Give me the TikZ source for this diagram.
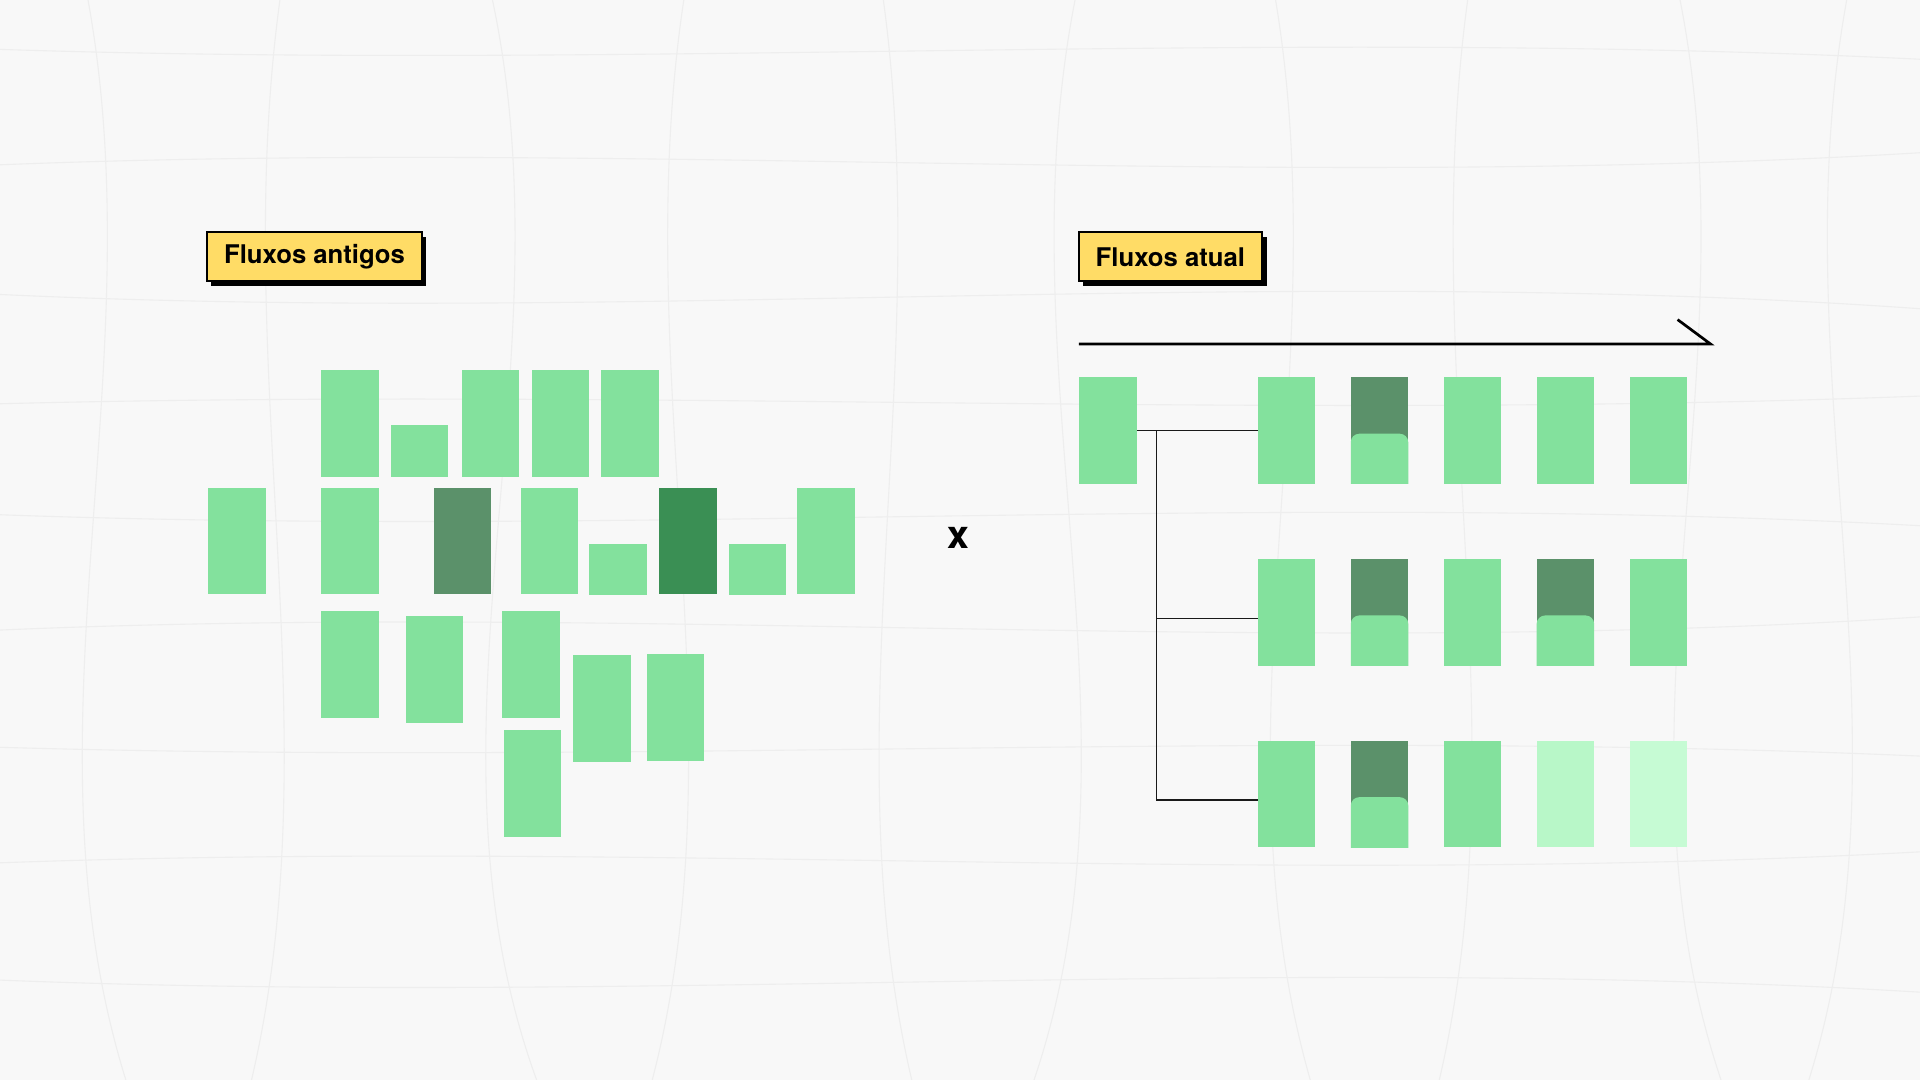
\documentclass[tikz,border=0pt]{standalone}
\usepackage{fontspec}
\setmainfont{TeX Gyre Heros}
\usepackage{tikz}
\usetikzlibrary{positioning,shadows}

\definecolor{bgpaper}{HTML}{F8F8F8}
\definecolor{meshgray}{HTML}{EEEEEE}
\definecolor{boxgreen}{HTML}{83E19D}
\definecolor{boxdark}{HTML}{5B916A}
\definecolor{boxdeep}{HTML}{3A8F54}
\definecolor{boxpale}{HTML}{B8F7C8}
\definecolor{boxpaler}{HTML}{C6FBD4}
\definecolor{tagyellow}{HTML}{FFDC66}

\tikzset{
    block/.style={
           rectangle,
           fill=boxgreen,
           draw=none,
           minimum width=47pt,
           minimum height=87pt,
           inner sep=0pt,
           anchor=north west,
           },
    halfblock/.style={
           block,
           minimum height=42pt,
           },
    darkblock/.style={
           block,
           fill=boxdark,
           },
    deepblock/.style={
           block,
           fill=boxdeep,
           },
    % dark on top, rounded light part below
    splitblock/.style={
           darkblock,
           path picture={
               \fill[boxgreen]
                 ([yshift=-42pt]path picture bounding box.south west)
                 [rounded corners=7pt] |- ([yshift=41pt]path picture bounding box.south)
                 -| ([yshift=-42pt]path picture bounding box.south east)
                 [sharp corners] -- cycle;
               },
           },
    tag/.style={
           rectangle,
           fill=tagyellow,
           draw=black, line width=1.6pt,
           minimum width=150pt,
           minimum height=40pt,
           inner xsep=11pt,
           anchor=north west,
           font=\bfseries\fontsize{21}{24}\selectfont,
           drop shadow={shadow xshift=3.5pt, shadow yshift=-3.5pt,
                        fill=black, opacity=1},
           },
    link/.style={draw=black!90, line width=1.3pt},
    timeline/.style={draw=black, line width=2.2pt, line join=miter},
}

\begin{document}
\begin{tikzpicture}[x=1pt,y=-1pt]
        % paper and faint mesh behind
        \fill[bgpaper] (0,0) rectangle (1568,882);
        \useasboundingbox (0,0) rectangle (1568,882);
        \foreach \yy/\bb in {40/18,135/-22,240/26,330/-14,420/20,515/-24,610/16,705/-20,800/22}
            \draw[meshgray, line width=0.9pt] (-10,\yy) .. controls (520,\yy+\bb) and (1050,\yy-\bb) .. (1580,\yy+0.5*\bb);
        \foreach \xx/\dd in {70/60,230/-45,400/70,560/-50,720/45,880/-65,1040/55,1200/-45,1370/65,1510/-60}
            \draw[meshgray, line width=0.9pt] (\xx,-10) .. controls (\xx+\dd,300) and (\xx-\dd,600) .. (\xx+0.6*\dd,892);

        % TAGS
        \node[tag, minimum width=176pt] (T_OLD) at (168,189) {Fluxos antigos};
        \node[tag, minimum width=150pt] (T_NEW) at (880,189) {Fluxos atual};

        % OLD FLOWS - scattered blocks
        % first row
        \node[block]      (O11) at (262,302) {};
        \node[halfblock]  (O12) at (319,347) {};
        \node[block]      (O13) at (377,302) {};
        \node[block]      (O14) at (434,302) {};
        \node[block]      (O15) at (491,302) {};
        % second row
        \node[block]      (O21) at (170,398) {};
        \node[block]      (O22) at (262,398) {};
        \node[darkblock]  (O23) at (354,398) {};
        \node[block]      (O24) at (425,398) {};
        \node[halfblock]  (O25) at (481,444) {};
        \node[deepblock]  (O26) at (538,398) {};
        \node[halfblock]  (O27) at (595,444) {};
        \node[block]      (O28) at (651,398) {};
        % third row
        \node[block]      (O31) at (262,499) {};
        \node[block]      (O32) at (331,503) {};
        \node[block]      (O33) at (410,499) {};
        \node[block]      (O34) at (468,535) {};
        \node[block]      (O35) at (528,534) {};
        \node[block]      (O41) at (411,596) {};

        % versus
        \node[font=\bfseries\fontsize{32}{32}\selectfont] (VS) at (783,439) {x};

        % CURRENT FLOW - source and timeline
        \node[block] (N0) at (881,308) {};
        \coordinate (TL_A) at (881,281);
        \coordinate (TL_B) at (1397,281);
        \draw[timeline] (TL_A) -- (TL_B) -- ++(-27,-20);

        % first row
        \node[block]                            (N11) at (1027,308) {};
        \node[splitblock, right=28.5pt of N11]  (N12) {};
        \node[block,      right=28.5pt of N12]  (N13) {};
        \node[block,      right=28.5pt of N13]  (N14) {};
        \node[block,      right=28.5pt of N14]  (N15) {};
        % second row
        \node[block,      below=61pt of N11]    (N21) {};
        \node[splitblock, right=28.5pt of N21]  (N22) {};
        \node[block,      right=28.5pt of N22]  (N23) {};
        \node[splitblock, right=28.5pt of N23]  (N24) {};
        \node[block,      right=28.5pt of N24]  (N25) {};
        % third row
        \node[block,      below=61pt of N21]    (N31) {};
        \node[splitblock, right=28.5pt of N31]  (N32) {};
        \node[block,      right=28.5pt of N32]  (N33) {};
        \node[block, fill=boxpale,  right=28.5pt of N33]  (N34) {};
        \node[block, fill=boxpaler, right=28.5pt of N34]  (N35) {};

        % branching from the source
        \coordinate (BR) at ([xshift=16pt]N0.east);
        \draw[link] (N0.east) -- (N11.west);
        \draw[link] (BR) |- ([yshift=-5pt]N21.west);
        \draw[link] (BR) |- ([yshift=-5pt]N31.west);

\end{tikzpicture}
\end{document}
